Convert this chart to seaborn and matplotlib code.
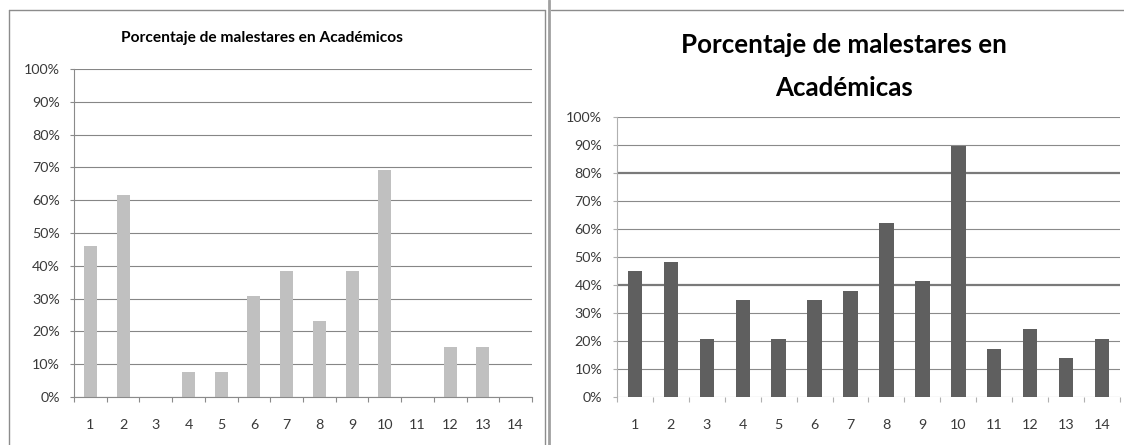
import matplotlib as mpl
mpl.use("Agg")

import matplotlib.pyplot as plt
import seaborn as sns
from matplotlib.lines import Line2D
from matplotlib.ticker import FixedLocator

# porcentaje por item (1..14)
items = [str(i) for i in range(1, 15)]
academicos = [46.15, 61.54, 0, 7.69, 7.69, 30.77, 38.46, 23.08, 38.46, 69.23, 0, 15.38, 15.38, 0]
academicas = [44.83, 48.28, 20.69, 34.48, 20.69, 34.48, 37.93, 62.07, 41.38, 89.66, 17.24, 24.14, 13.79, 20.69]
yticks = list(range(0, 101, 10))
ylabels = [f"{v}%" for v in yticks]

sns.set_theme(style="white")
plt.rcParams['font.family'] = ['Lato', 'DejaVu Sans']

W, H = 1124, 445
fig = plt.figure(figsize=(W / 100, H / 100), dpi=100)


def box(x0, y0, x1, y1):
    # pixel box, origin top-left -> figure fraction rect
    return [x0 / W, 1 - y1 / H, (x1 - x0) / W, (y1 - y0) / H]


def fline(x0, y0, x1, y1, **kw):
    fig.add_artist(Line2D([x0 / W, x1 / W], [1 - y0 / H, 1 - y1 / H],
                          transform=fig.transFigure, **kw))


def style(ax, axis_col, grid_col, ypad, show_bottom):
    ax.set_xlim(-0.5, 13.5)
    ax.set_ylim(0, 100)
    ax.set_yticks(yticks)
    ax.set_yticklabels(ylabels)
    ax.set_xlabel("")
    ax.set_ylabel("")
    ax.yaxis.grid(True, color=grid_col, linewidth=0.8)
    ax.xaxis.grid(False)
    ax.set_axisbelow(True)
    for s in ("top", "right"):
        ax.spines[s].set_visible(False)
    ax.spines["left"].set_color(axis_col)
    ax.spines["left"].set_linewidth(0.8)
    ax.spines["bottom"].set_color(axis_col)
    ax.spines["bottom"].set_linewidth(0.8)
    ax.spines["bottom"].set_visible(show_bottom)
    ax.tick_params(axis="y", left=True, length=2.6, width=0.8, color=axis_col,
                   pad=ypad, labelsize=10.3, labelcolor="#3a3a3a")
    ax.tick_params(axis="x", which="major", bottom=True, length=0, pad=15.5,
                   labelsize=10.3, labelcolor="#3a3a3a")
    ax.xaxis.set_minor_locator(FixedLocator([i - 0.5 for i in range(15)]))
    ax.tick_params(axis="x", which="minor", bottom=True, length=3.5, width=0.8,
                   color=axis_col, direction="out")


# izquierda: Académicos
ax1 = fig.add_axes(box(74, 69, 532, 397))
sns.barplot(x=items, y=academicos, color="#c0c0c0", saturation=1, width=0.4,
            linewidth=0, ax=ax1)
style(ax1, "#8a8a8a", "#868686", 7.5, True)

# derecha: Académicas
ax2 = fig.add_axes(box(617, 117, 1120, 397))
sns.barplot(x=items, y=academicas, color="#5f5f5f", saturation=1, width=0.4,
            linewidth=0, ax=ax2)
style(ax2, "#b0b0b0", "#8a8a8a", 8, False)
for v, gl in zip(yticks, ax2.get_ygridlines()):
    if v in (40, 80):
        gl.set_linewidth(1.6)
        gl.set_color("#7a7a7a")

# títulos
fig.text(262 / W, 1 - 42 / H, "Porcentaje de malestares en Académicos",
         ha="center", va="baseline", fontsize=11.2, fontweight="bold", color="black")
fig.text(844 / W, 1 - 53 / H, "Porcentaje de malestares en",
         ha="center", va="baseline", fontsize=18.6, fontweight="bold", color="black")
fig.text(844 / W, 1 - 96 / H, "Académicas",
         ha="center", va="baseline", fontsize=18.6, fontweight="bold", color="black")

# marcos de los paneles
fline(9, 10, 545, 10, color="#8c8c8c", linewidth=1)
fline(9, 10, 9, 445, color="#8c8c8c", linewidth=1)
fline(545, 10, 545, 445, color="#8c8c8c", linewidth=1)
fline(549, 0, 549, 445, color="#a0a0a0", linewidth=2)
fline(551, 10, 1124, 10, color="#8c8c8c", linewidth=1)

fig.savefig("out.png", dpi=100)
